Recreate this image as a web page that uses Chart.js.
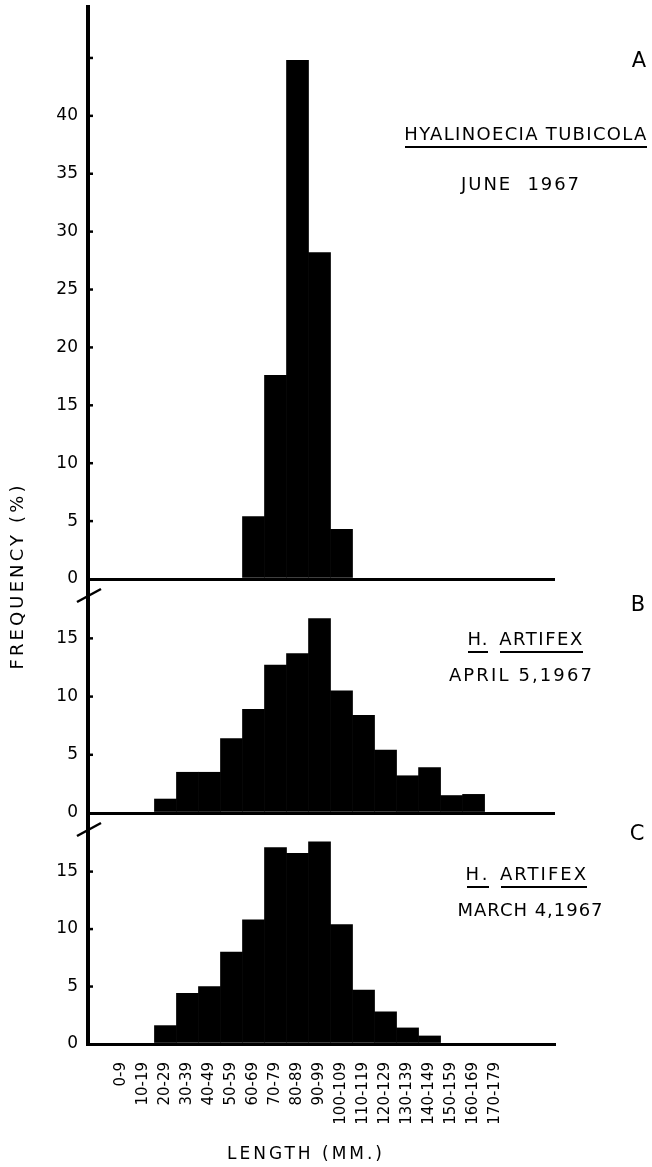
<!DOCTYPE html>
<html>
<head>
<meta charset="utf-8">
<script src="https://cdn.jsdelivr.net/npm/chart.js@4.4.1/dist/chart.umd.min.js"></script>
<style>
  html, body { margin: 0; padding: 0; background: #fff; }
  #wrap { position: relative; width: 652px; height: 1167px; }
</style>
</head>
<body>
<div id="wrap"><canvas id="ctx1"></canvas></div>
<script>
// length classes (mm), one bar per class
var lengthClasses = ['0-9', '10-19', '20-29', '30-39', '40-49', '50-59', '60-69', '70-79', '80-89',
  '90-99', '100-109', '110-119', '120-129', '130-139', '140-149', '150-159', '160-169', '170-179'];

// frequency (%)
var juneTubicola = [0, 0, 0, 0, 0, 0, 5.4, 17.6, 44.8, 28.2, 4.3, 0, 0, 0, 0, 0, 0, 0];
var aprilArtifex = [0, 0, 1.2, 3.5, 3.5, 6.4, 8.9, 12.7, 13.7, 16.7, 10.5, 8.4, 5.4, 3.2, 3.9, 1.5, 1.6, 0];
var marchArtifex = [0, 0, 1.6, 4.4, 5.0, 8.0, 10.8, 17.1, 16.6, 17.6, 10.4, 4.7, 2.8, 1.4, 0.7, 0, 0, 0];

// y ticks per panel
var ticksA = [0, 5, 10, 15, 20, 25, 30, 35, 40, 45];
var ticksB = [0, 5, 10, 15];
var ticksC = [0, 5, 10, 15];
var unlabelledA = [45];

var FONT = '"DejaVu Sans", sans-serif';

// text beside the panels: [text, centre x, centre y, width, size, underline]
var notes = [
  ['A', 639, 62, 0, 21, false],
  ['HYALINOECIA TUBICOLA', 526, 135, 242, 18, true],
  ['JUNE  1967', 521, 185, 118, 18, false],
  ['B', 638, 606, 0, 21, false],
  ['H.', 478, 640, 20, 18, true],
  ['ARTIFEX', 541.5, 640, 83, 18, true],
  ['APRIL 5,1967', 521.5, 676, 143, 18, false],
  ['C', 637, 835, 0, 21, false],
  ['H.', 478, 875, 22, 18, true],
  ['ARTIFEX', 544, 875, 86, 18, true],
  ['MARCH 4,1967', 530.5, 911, 145, 18, false],
  ['LENGTH (MM.)', 306, 1155, 155, 17, false],
];

function points(arr) {
  return arr.map(function(v, i) { return {x: i, y: v}; });
}

function fitText(c, txt, x, y, width) {
  c.letterSpacing = '0px';
  if (width > 0 && txt.length > 1) {
    var w = c.measureText(txt).width;
    c.letterSpacing = ((width - w) / (txt.length - 1)) + 'px';
  }
  c.fillText(txt, x, y);
  c.letterSpacing = '0px';
}

function keepTicks(list) {
  return function(scale) {
    scale.ticks = list.map(function(v) { return {value: v}; });
  };
}

// panel height in px goes in as the stack weight
function yAxis(max, list, weight, height, hidden) {
  return {
    type: 'linear',
    position: 'left',
    stack: 'panels',
    stackWeight: height,
    weight: weight,
    min: 0,
    max: max,
    afterBuildTicks: keepTicks(list),
    afterFit: function(scale) {
      scale.width = 88;
      scale.paddingTop = 0;
      scale.paddingBottom = 0;
    },
    border: { display: true, color: '#000', width: 4 },
    grid: {
      drawTicks: false,
      lineWidth: 3,
      color: function(ctx) { return ctx.tick && ctx.tick.value === 0 ? '#000' : 'rgba(0,0,0,0)'; }
    },
    ticks: {
      padding: 10,
      color: '#000',
      font: { family: FONT, size: 17 },
      callback: function(value) { return hidden.indexOf(value) >= 0 ? '' : value; }
    }
  };
}

var figurePlugin = {
  id: 'figure',
  afterDraw: function(chart) {
    var c = chart.ctx;
    var left = chart.chartArea.left;
    c.save();
    c.strokeStyle = '#000';
    c.fillStyle = '#000';

    // small tick nubs inside the axis
    c.lineWidth = 2.5;
    ['yA', 'yB', 'yC'].forEach(function(id) {
      var s = chart.scales[id];
      s.ticks.forEach(function(t) {
        if (t.value === 0) return;
        var py = s.getPixelForValue(t.value);
        c.beginPath();
        c.moveTo(left, py);
        c.lineTo(left + 5, py);
        c.stroke();
      });
    });

    // axis breaks
    c.lineWidth = 2.5;
    [chart.scales.yA.bottom, chart.scales.yB.bottom].forEach(function(b) {
      c.beginPath();
      c.moveTo(left - 11, b + 23);
      c.lineTo(left + 13, b + 10);
      c.stroke();
    });

    // notes
    c.textAlign = 'center';
    c.textBaseline = 'middle';
    notes.forEach(function(n) {
      c.font = n[4] + 'px ' + FONT;
      fitText(c, n[0], n[1], n[2], n[3]);
      if (n[5]) {
        c.lineWidth = 2;
        c.beginPath();
        c.moveTo(n[1] - n[3] / 2, n[2] + 12);
        c.lineTo(n[1] + n[3] / 2, n[2] + 12);
        c.stroke();
      }
    });

    // y title
    c.translate(18, 576);
    c.rotate(-Math.PI / 2);
    c.font = '18px ' + FONT;
    fitText(c, 'FREQUENCY (%)', 0, 0, 184);
    c.restore();
  }
};

function barSet(label, arr, axis) {
  return {
    label: label,
    data: points(arr),
    yAxisID: axis,
    backgroundColor: '#000',
    borderWidth: 0,
    grouped: false,
    categoryPercentage: 1,
    barPercentage: 1,
  };
}

var ctx1 = document.getElementById('ctx1');
ctx1.style.width = '652px';
ctx1.style.height = '1167px';

new Chart(ctx1, {
  type: 'bar',
  plugins: [figurePlugin],
  data: {
    datasets: [
      barSet('H. tubicola, June 1967', juneTubicola, 'yA'),
      barSet('H. artifex, April 5, 1967', aprilArtifex, 'yB'),
      barSet('H. artifex, March 4, 1967', marchArtifex, 'yC'),
    ]
  },
  options: {
    responsive: false,
    maintainAspectRatio: false,
    animation: false,
    layout: { padding: { top: 7, right: 97, bottom: 0, left: 0 } },
    scales: {
      x: {
        type: 'linear',
        position: 'bottom',
        min: -0.93,
        max: 19.11,
        afterBuildTicks: keepTicks(lengthClasses.map(function(l, i) { return i; })),
        afterFit: function(scale) {
          scale.height = 123;
          scale.paddingLeft = 0;
          scale.paddingRight = 0;
        },
        border: { display: true, color: '#000', width: 3 },
        grid: { display: false, drawTicks: false },
        ticks: {
          autoSkip: false,
          minRotation: 90,
          maxRotation: 90,
          padding: 18,
          color: '#000',
          font: { family: FONT, size: 15 },
          callback: function(value) { return lengthClasses[value]; }
        }
      },
      yA: yAxis(49.4, ticksA, 3, 572, unlabelledA),
      yB: yAxis(20.1, ticksB, 2, 234, []),
      yC: yAxis(20.1, ticksC, 1, 231, []),
    },
    plugins: {
      legend: { display: false },
      tooltip: { enabled: false },
    },
  },
});
</script>
</body>
</html>
